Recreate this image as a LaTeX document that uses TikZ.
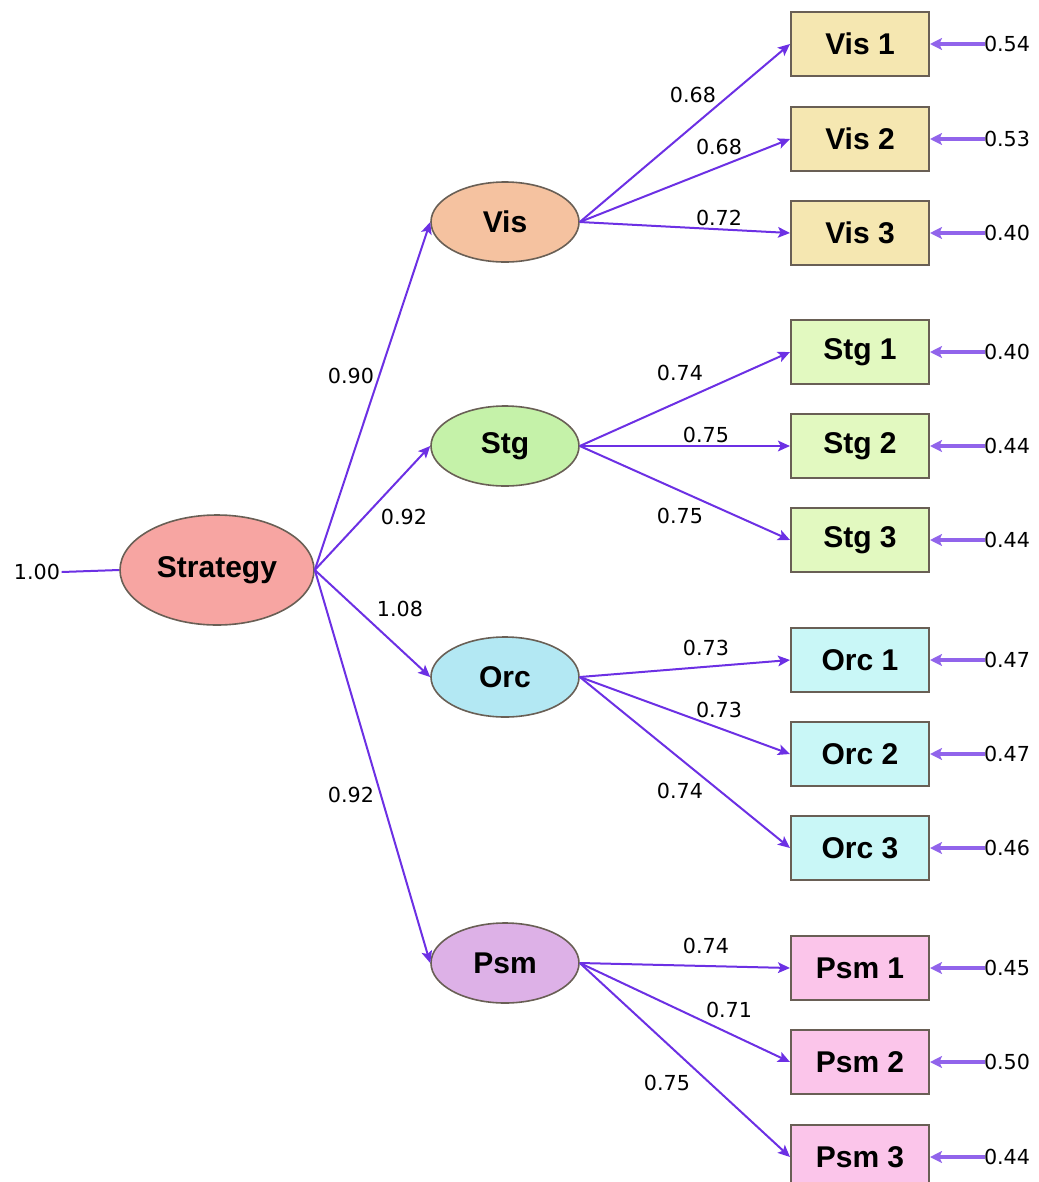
\documentclass[tikz,border=0pt]{standalone}
\usepackage{fontspec}
\setmainfont{Liberation Sans}
\newfontfamily\numfont{DejaVu Sans}
\usetikzlibrary{arrows.meta,shapes.geometric}

\definecolor{pathcol}{RGB}{108,48,228}
\definecolor{stratfill}{RGB}{247,165,162}
\definecolor{visfill}{RGB}{245,194,160}
\definecolor{stgfill}{RGB}{197,242,169}
\definecolor{orcfill}{RGB}{179,232,243}
\definecolor{psmfill}{RGB}{221,177,231}
\definecolor{visbox}{RGB}{245,231,177}
\definecolor{stgbox}{RGB}{226,249,192}
\definecolor{orcbox}{RGB}{201,247,247}
\definecolor{psmbox}{RGB}{251,197,234}
\definecolor{edgecol}{RGB}{105,95,85}

\tikzset{
  latent/.style={ellipse, draw=edgecol, line width=1.2pt, minimum width=111pt, minimum height=60pt,
    inner sep=0pt, font=\fontsize{22.5}{24}\selectfont\bfseries},
  factor/.style={latent, minimum width=145.5pt, minimum height=82.5pt},
  item/.style={rectangle, draw=edgecol, line width=1.5pt, minimum width=103.5pt, minimum height=48pt,
    inner sep=0pt, font=\fontsize{22.5}{24}\selectfont\bfseries},
  coef/.style={font=\numfont\fontsize{15.5}{16}\selectfont, inner sep=1pt},
  path/.style={draw=pathcol, line width=1.5pt, -{Stealth[length=9pt,width=8pt,inset=2pt]}},
  errpath/.style={draw=pathcol!75, line width=2.4pt, -{Stealth[length=9pt,width=9pt,inset=2pt]}},
}

\begin{document}
\begin{tikzpicture}[x=0.75pt, y=-0.75pt]
\useasboundingbox (0,0) rectangle (1039,1182);

% second-order factor and its variance
\node[factor, fill=stratfill] (strat) at (217,570) {Strategy};
\node[coef] (var) at (37,572) {1.00};
\draw[pathcol, line width=1.5pt] (var.east) -- (strat.west);

% first-order factors
\node[latent, fill=visfill] (vis) at (505,222) {Vis};
\node[latent, fill=stgfill] (stg) at (505,446) {Stg};
\node[latent, fill=orcfill] (orc) at (505,677) {Orc};
\node[latent, fill=psmfill] (psm) at (505,963) {Psm};

\draw[path] (strat.east) -- (vis.west);
\draw[path] (strat.east) -- (stg.west);
\draw[path] (strat.east) -- (orc.west);
\draw[path] (strat.east) -- (psm.west);
\node[coef] at (351,376) {0.90};
\node[coef] at (404,517) {0.92};
\node[coef] at (400,609) {1.08};
\node[coef] at (351,795) {0.92};

% indicators
\node[item, fill=visbox] (vis1) at (860,44) {Vis 1};
\node[item, fill=visbox] (vis2) at (860,139) {Vis 2};
\node[item, fill=visbox] (vis3) at (860,233) {Vis 3};
\node[item, fill=stgbox] (stg1) at (860,352) {Stg 1};
\node[item, fill=stgbox] (stg2) at (860,446) {Stg 2};
\node[item, fill=stgbox] (stg3) at (860,540) {Stg 3};
\node[item, fill=orcbox] (orc1) at (860,660) {Orc 1};
\node[item, fill=orcbox] (orc2) at (860,754) {Orc 2};
\node[item, fill=orcbox] (orc3) at (860,848) {Orc 3};
\node[item, fill=psmbox] (psm1) at (860,968) {Psm 1};
\node[item, fill=psmbox] (psm2) at (860,1062) {Psm 2};
\node[item, fill=psmbox] (psm3) at (860,1157) {Psm 3};

% loadings
\foreach \f/\i in {vis/vis1,vis/vis2,vis/vis3,stg/stg1,stg/stg2,stg/stg3,
                   orc/orc1,orc/orc2,orc/orc3,psm/psm1,psm/psm2,psm/psm3}
  \draw[path] (\f.east) -- (\i.west);

\node[coef] at (693,95) {0.68};
\node[coef] at (719,147) {0.68};
\node[coef] at (719,218) {0.72};
\node[coef] at (680,373) {0.74};
\node[coef] at (706,435) {0.75};
\node[coef] at (680,516) {0.75};
\node[coef] at (706,648) {0.73};
\node[coef] at (719,710) {0.73};
\node[coef] at (680,791) {0.74};
\node[coef] at (706,946) {0.74};
\node[coef] at (729,1010) {0.71};
\node[coef] at (667,1083) {0.75};

% error variances
\foreach \i/\y/\v in {vis1/44/0.54, vis2/139/0.53, vis3/233/0.40,
                      stg1/352/0.40, stg2/446/0.44, stg3/540/0.44,
                      orc1/660/0.47, orc2/754/0.47, orc3/848/0.46,
                      psm1/968/0.45, psm2/1062/0.50, psm3/1157/0.44}{
  \node[coef] (e-\i) at (1007,\y) {\v};
  \coordinate (s-\i) at (985,\y);
  \draw[errpath] (s-\i) -- (\i.east);
}
\end{tikzpicture}
\end{document}
